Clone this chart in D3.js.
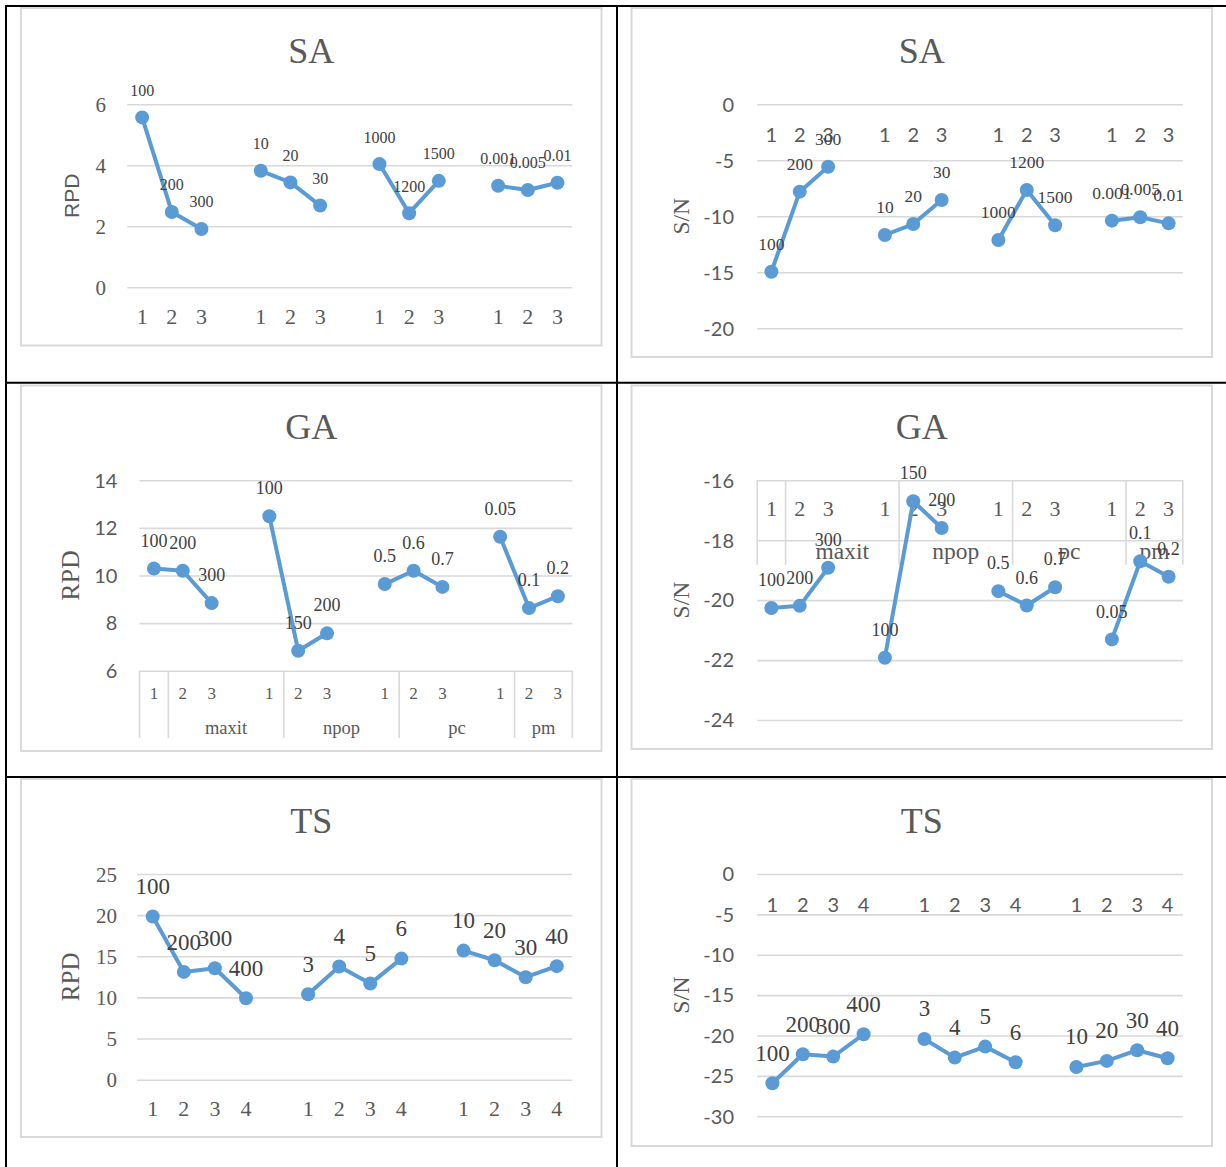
<!DOCTYPE html>
<html>
<head>
<meta charset="utf-8">
<script src="https://cdn.jsdelivr.net/npm/d3@7"></script>
<style>
  html, body { margin: 0; padding: 0; background: #fff; }
  svg { display: block; }
</style>
</head>
<body>
<svg id="fig" width="1226" height="1167"></svg>
<script>
// ---- parameter levels (printed above each point) ----
const saLevels = [["100", "200", "300"], ["10", "20", "30"], ["1000", "1200", "1500"], ["0.001", "0.005", "0.01"]];
const gaLevels = [["100", "200", "300"], ["100", "150", "200"], ["0.5", "0.6", "0.7"], ["0.05", "0.1", "0.2"]];
const tsLevels = [["100", "200", "300", "400"], ["3", "4", "5", "6"], ["10", "20", "30", "40"]];

// ---- mean RPD per level ----
const saRpd = [[5.57, 2.47, 1.91], [3.82, 3.44, 2.68], [4.04, 2.43, 3.49], [3.33, 3.19, 3.43]];
const gaRpd = [[10.29, 10.20, 8.84], [12.49, 6.84, 7.57], [9.64, 10.20, 9.52], [11.63, 8.63, 9.13]];
const tsRpd = [[19.83, 13.10, 13.55, 9.90], [10.39, 13.75, 11.68, 14.72], [15.69, 14.52, 12.46, 13.80]];

// ---- mean S/N ratio per level ----
const saSn = [[-14.95, -7.80, -5.57], [-11.67, -10.69, -8.54], [-12.12, -7.65, -10.80], [-10.39, -10.09, -10.63]];
const gaSn = [[-20.26, -20.19, -18.92], [-21.92, -16.70, -17.59], [-19.70, -20.18, -19.57], [-21.31, -18.70, -19.22]];
const tsSn = [[-25.90, -22.31, -22.61, -19.84], [-20.42, -22.73, -21.37, -23.31], [-23.89, -23.14, -21.82, -22.81]];

// ---- category (level index) labels ----
const cats3 = ["1", "2", "3"];
const cats4 = ["1", "2", "3", "4"];
// outer category row of the GA charts, one entry per slot (gaps included)
const gaOuter = ["", "maxit", "maxit", "maxit", "maxit", "npop", "npop", "npop", "npop",
                 "pc", "pc", "pc", "pc", "pm", "pm"];

// ---- value-axis ticks ----
const saRpdTicks = [0, 2, 4, 6];
const saSnTicks = [0, -5, -10, -15, -20];
const gaRpdTicks = [6, 8, 10, 12, 14];
const gaSnTicks = [-16, -18, -20, -22, -24];
const tsRpdTicks = [0, 5, 10, 15, 20, 25];
const tsSnTicks = [0, -5, -10, -15, -20, -25, -30];

const SERIF = '"Liberation Serif", "Times New Roman", serif';
const SANS = 'Lato, "Liberation Sans", sans-serif';
const ARIAL = '"Liberation Sans", Arial, sans-serif';
const BLUE = "#5B9BD5";
const GRID = "#d9d9d9";
const INK = "#595959";
const LABEL_INK = "#404040";

const panels = [
  { title: "SA", titleBase: 62.7, frame: [21, 8, 601.5, 345.5],
    values: saRpd, levels: saLevels, cats: cats3,
    xRange: [127.3, 572.3], yRange: [287.3, 104.3], domain: [0, 6], ticks: saRpdTicks,
    yTickFont: [SERIF, 21], tickRight: 106,
    yTitle: "RPD", yTitleFont: [ARIAL, 21], yTitleX: 71.5,
    xFont: [SERIF, 22], xBase: 324,
    labelFont: [SERIF, 16], rise: 27 },
  { title: "SA", titleBase: 62.7, frame: [631.5, 8, 1212, 357],
    values: saSn, levels: saLevels, cats: cats3,
    xRange: [757.2, 1182.8], yRange: [328.3, 104.3], domain: [-20, 0], ticks: saSnTicks,
    yTickFont: [SANS, 20], tickRight: 734,
    yTitle: "S/N", yTitleFont: [SERIF, 23.5], yTitleX: 681,
    xFont: [SANS, 20], xBase: 141.7,
    labelFont: [SERIF, 17.5], rise: 28 },
  { title: "GA", titleBase: 439, frame: [21, 385.5, 601.5, 751],
    values: gaRpd, levels: gaLevels, cats: cats3,
    xRange: [139.5, 572.3], yRange: [670.7, 480.3], domain: [6, 14], ticks: gaRpdTicks,
    yTickFont: [SANS, 20], tickRight: 117.4,
    yTitle: "RPD", yTitleFont: [SERIF, 26], yTitleX: 70.5,
    xFont: [SERIF, 17], xBase: 698.7,
    outer: gaOuter, outerFont: [SERIF, 18.5], outerBase: 734, sepBottom: 738,
    labelFont: [SERIF, 18], rise: 28 },
  { title: "GA", titleBase: 439, frame: [631.5, 385.5, 1212, 749],
    values: gaSn, levels: gaLevels, cats: cats3,
    xRange: [757.2, 1182.8], yRange: [720, 480.3], domain: [-24, -16], ticks: gaSnTicks,
    yTickFont: [SANS, 20], tickRight: 734,
    yTitle: "S/N", yTitleFont: [SERIF, 23.5], yTitleX: 681,
    xFont: [SERIF, 22], xBase: 516.3,
    outer: gaOuter, outerFont: [SERIF, 23.5], outerBase: 559, sepBottom: 564.7,
    labelFont: [SERIF, 18], rise: 28 },
  { title: "TS", titleBase: 832.7, frame: [21, 779, 601.5, 1137],
    values: tsRpd, levels: tsLevels, cats: cats4,
    xRange: [137.2, 572.3], yRange: [1079.7, 874], domain: [0, 25], ticks: tsRpdTicks,
    yTickFont: [SERIF, 21], tickRight: 117,
    yTitle: "RPD", yTitleFont: [SERIF, 25], yTitleX: 70.5,
    xFont: [SERIF, 22], xBase: 1115.7,
    labelFont: [SERIF, 23], rise: 30 },
  { title: "TS", titleBase: 832.7, frame: [631.5, 779, 1212, 1146],
    values: tsSn, levels: tsLevels, cats: cats4,
    xRange: [757.2, 1182.8], yRange: [1116.3, 874], domain: [-30, 0], ticks: tsSnTicks,
    yTickFont: [SANS, 20], tickRight: 734,
    yTitle: "S/N", yTitleFont: [SERIF, 24], yTitleX: 681,
    xFont: [SANS, 20], xBase: 912.3,
    labelFont: [SERIF, 23], rise: 30.5 }
];

const svg = d3.select("#fig");
svg.append("rect").attr("width", 1226).attr("height", 1167).attr("fill", "#fff");

// table rules around the six charts
const rules = svg.append("g").attr("stroke", "#000").attr("stroke-width", 2);
[[5, 6, 1226, 6], [5, 382.7, 1226, 382.7], [5, 777, 1226, 777],
 [6, 5, 6, 1167], [617, 5, 617, 1167]].forEach(([x1, y1, x2, y2]) =>
  rules.append("line").attr("x1", x1).attr("y1", y1).attr("x2", x2).attr("y2", y2));

function font(sel, f) {
  return sel.attr("font-family", f[0]).attr("font-size", f[1]);
}

function drawPanel(p) {
  const g = svg.append("g");
  const [fx0, fy0, fx1, fy1] = p.frame;

  g.append("rect")
    .attr("x", fx0).attr("y", fy0).attr("width", fx1 - fx0).attr("height", fy1 - fy0)
    .attr("fill", "#fff").attr("stroke", GRID).attr("stroke-width", 2);

  const per = p.values[0].length;
  const nSlots = p.values.length * (per + 1) - 1;
  const slotOf = (gi, i) => gi * (per + 1) + i;

  const x = d3.scaleBand().domain(d3.range(nSlots)).range(p.xRange).padding(0);
  const y = d3.scaleLinear().domain(p.domain).range(p.yRange);
  const cx = s => x(s) + x.bandwidth() / 2;
  const plotW = p.xRange[1] - p.xRange[0];

  // horizontal gridlines
  const grid = g.append("g")
    .attr("transform", `translate(${p.xRange[0]},0)`)
    .call(d3.axisLeft(y).tickValues(p.ticks).tickSize(-plotW).tickFormat(""));
  grid.select(".domain").remove();
  grid.selectAll(".tick line").attr("stroke", GRID).attr("stroke-width", 1.6);

  // value-axis labels (plain hyphen for negatives)
  const ya = g.append("g")
    .attr("transform", `translate(${p.xRange[0]},0)`)
    .call(d3.axisLeft(y).tickValues(p.ticks).tickSize(0)
      .tickPadding(p.xRange[0] - p.tickRight).tickFormat(d => String(d)));
  ya.select(".domain").remove();
  font(ya.selectAll("text"), p.yTickFont).attr("fill", INK).attr("dy", "0.34em");

  // category axis sits where the value axis crosses 0 (clamped to the range)
  const cross = Math.max(p.domain[0], Math.min(p.domain[1], 0));
  const axisY = y(cross);
  const slots = [];
  p.values.forEach((vals, gi) => vals.forEach((v, i) => slots.push(slotOf(gi, i))));
  const xa = g.append("g")
    .attr("transform", `translate(0,${axisY})`)
    .call(d3.axisBottom(x).tickValues(slots).tickSize(0)
      .tickFormat(s => p.cats[s % (per + 1)]));
  xa.select(".domain").remove();
  font(xa.selectAll("text"), p.xFont).attr("fill", INK)
    .attr("y", p.xBase - axisY).attr("dy", 0);

  // second category row with group separators
  if (p.outer) {
    const runs = [];
    p.outer.forEach((name, s) => {
      const last = runs[runs.length - 1];
      if (last && last.name === name) last.end = s;
      else runs.push({ name, start: s, end: s });
    });
    const edges = runs.map(r => x(r.start)).concat([p.xRange[1]]);
    g.append("g").selectAll("line").data(edges).join("line")
      .attr("x1", d => d).attr("x2", d => d)
      .attr("y1", axisY).attr("y2", p.sepBottom)
      .attr("stroke", GRID).attr("stroke-width", 1.6);
    font(g.append("g").selectAll("text").data(runs.filter(r => r.name)).join("text"), p.outerFont)
      .attr("x", r => (x(r.start) + x(r.end) + x.bandwidth()) / 2)
      .attr("y", p.outerBase)
      .attr("text-anchor", "middle").attr("fill", INK)
      .text(r => r.name);
  }

  // value-axis title
  const plotMid = (p.yRange[0] + p.yRange[1]) / 2;
  font(g.append("text"), p.yTitleFont)
    .attr("transform", `translate(${p.yTitleX},${plotMid}) rotate(-90)`)
    .attr("text-anchor", "middle").attr("dy", "0.34em").attr("fill", INK)
    .text(p.yTitle);

  // chart title
  g.append("text")
    .attr("x", (fx0 + fx1) / 2).attr("y", p.titleBase)
    .attr("text-anchor", "middle")
    .attr("font-family", SERIF).attr("font-size", 36).attr("fill", INK)
    .text(p.title);

  // one polyline per factor
  const pts = p.values.map((vals, gi) => vals.map((v, i) => ({
    s: slotOf(gi, i), v, label: p.levels[gi][i]
  })));
  const line = d3.line().x(d => cx(d.s)).y(d => y(d.v));
  g.append("g").selectAll("path").data(pts).join("path")
    .attr("d", line).attr("fill", "none")
    .attr("stroke", BLUE).attr("stroke-width", 4).attr("stroke-linejoin", "round");

  const flat = pts.flat();
  g.append("g").selectAll("circle").data(flat).join("circle")
    .attr("cx", d => cx(d.s)).attr("cy", d => y(d.v)).attr("r", 7)
    .attr("fill", BLUE);

  font(g.append("g").selectAll("text").data(flat).join("text"), p.labelFont)
    .attr("x", d => cx(d.s)).attr("y", d => y(d.v) - p.rise)
    .attr("dy", "0.34em").attr("text-anchor", "middle").attr("fill", LABEL_INK)
    .text(d => d.label);
}

panels.forEach(drawPanel);
</script>
</body>
</html>
